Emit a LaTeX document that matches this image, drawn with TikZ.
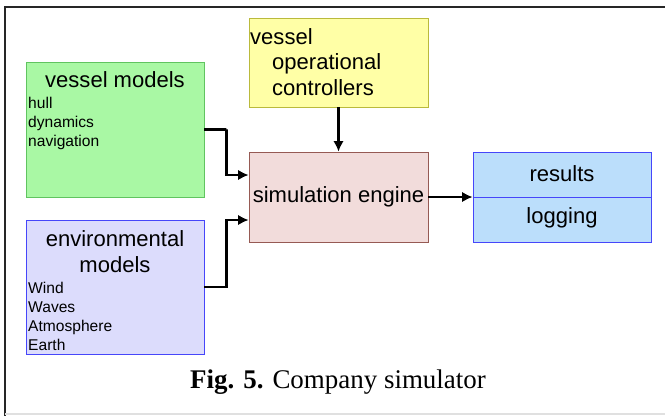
\documentclass[tikz,border=0pt]{standalone}
\usepackage{fontspec}
\setmainfont{Liberation Serif}
\newfontfamily\boxfont{Liberation Sans}
\usepackage{tikz}
\usetikzlibrary{shapes,arrows,arrows.meta,calc}
\definecolor{palegreen}{RGB}{169,248,164}
\definecolor{darkgreen}{RGB}{96,196,96}
\definecolor{paleyellow}{RGB}{255,255,166}
\definecolor{olive}{RGB}{186,186,60}
\definecolor{palepink}{RGB}{242,220,219}
\definecolor{brownish}{RGB}{150,90,84}
\definecolor{paleblue}{RGB}{187,222,251}
\definecolor{lavender}{RGB}{220,220,252}
\definecolor{brightblue}{RGB}{70,70,250}
\tikzstyle{block} = [rectangle, draw, line width=0.7pt, inner sep=0pt]
\tikzstyle{title} = [font=\boxfont\fontsize{18.8}{22}\selectfont, inner sep=0pt, align=center]
\tikzstyle{items} = [font=\boxfont\fontsize{13.3}{16.2}\selectfont, inner sep=0pt, align=left, anchor=west]
\tikzstyle{link} = [draw, line width=2pt, -{Latex[length=9pt,width=9pt]}]

\begin{document}
\begin{tikzpicture}[x=0.03cm, y=-0.03cm]
    \useasboundingbox (0,0) rectangle (665,416);
    % frame
    \draw[line width=2pt, black!85] (5,416) -- (5,7) -- (670,7);
    \draw[line width=1pt, black!12] (5,414) -- (670,414);

    % boxes
    \node[block, fill=palegreen, draw=darkgreen, minimum width=178*0.03cm, minimum height=135*0.03cm] (vessel) at (115,129.5) {};
    \node[block, fill=paleyellow, draw=olive, minimum width=179*0.03cm, minimum height=89*0.03cm] (ctrl) at (338.5,62.5) {};
    \node[block, fill=palepink, draw=brownish, minimum width=179*0.03cm, minimum height=90*0.03cm] (sim) at (338.5,197) {};
    \node[block, fill=paleblue, draw=brightblue, minimum width=178*0.03cm, minimum height=90*0.03cm] (res) at (562,197) {};
    \node[block, fill=lavender, draw=brightblue, minimum width=178*0.03cm, minimum height=134*0.03cm] (env) at (115,287) {};
    \draw[brightblue, line width=0.7pt] (res.west) -- (res.east);

    % texts
    \node[title] (vesseltitle) at (115,80) {vessel models};
    \node[items] (vesselitems) at (28,123) {hull\\dynamics\\navigation};
    \node[title, anchor=west] (ctrltitle) at (250,37) {vessel};
    \node[title, anchor=west, align=left] (ctrlitems) at (272,75) {operational\\controllers};
    \node[title] (simtext) at (338.5,197) {simulation engine};
    \node[title] (restext) at (562,174) {results};
    \node[title] (logtext) at (562,218) {logging};
    \node[title] (envtitle) at (115,252) {environmental\\models};
    \node[items] (envitems) at (28,316.5) {Wind\\Waves\\Atmosphere\\Earth};

    % connectors
    \path[link] (vessel.east) -| ($(vessel.east)!0.5!(vessel.east -| sim.west)$) |- ($(sim.west)+(0,-22)$);
    \path[link] (env.east) -| ($(env.east)!0.5!(env.east -| sim.west)$) |- ($(sim.west)+(0,23)$);
    \path[link] (ctrl.south) -- (sim.north);
    \path[link] (sim.east) -- (res.west);

    % caption
    \node[font=\fontsize{23}{27}\selectfont, inner sep=0pt] (caption) at (338,382) {\textbf{Fig. 5.} Company simulator};
\end{tikzpicture}
\end{document}
